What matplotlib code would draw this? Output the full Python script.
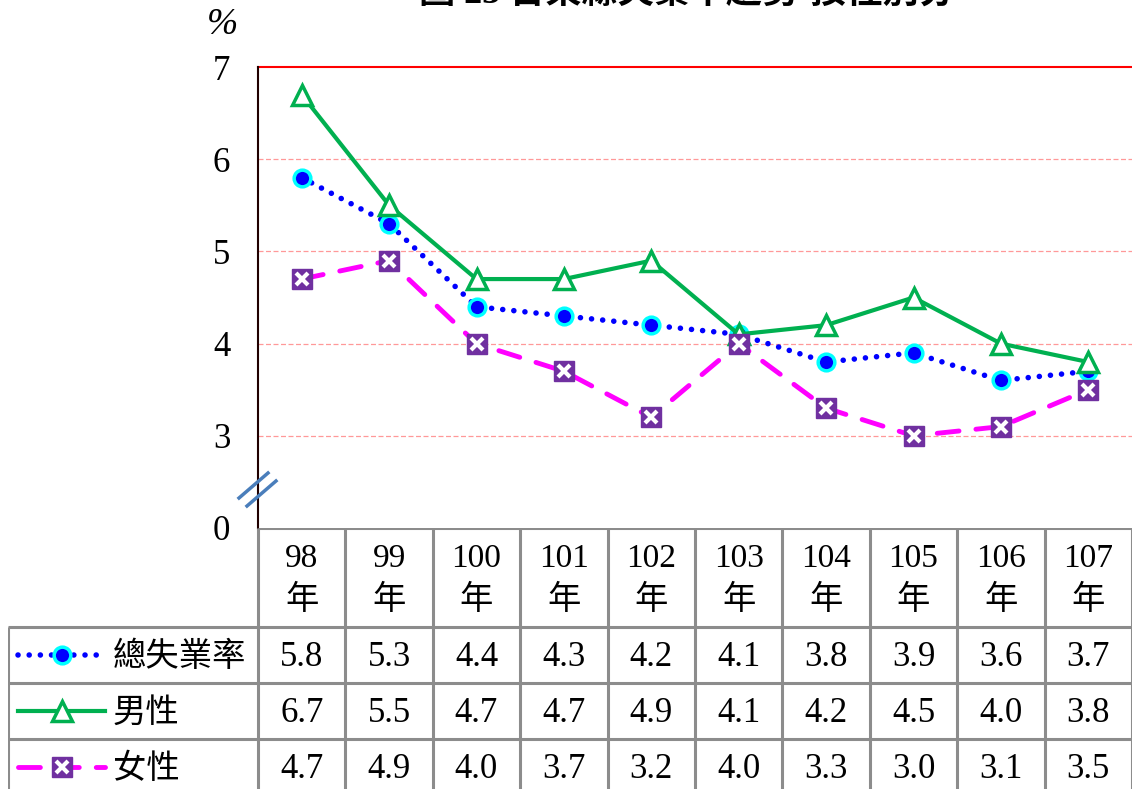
import matplotlib
matplotlib.use("Agg")
import matplotlib.pyplot as plt
from matplotlib.lines import Line2D

W, H = 1132, 789

years = ["98", "99", "100", "101", "102", "103", "104", "105", "106", "107"]
total = [5.8, 5.3, 4.4, 4.3, 4.2, 4.1, 3.8, 3.9, 3.6, 3.7]
male = [6.7, 5.5, 4.7, 4.7, 4.9, 4.1, 4.2, 4.5, 4.0, 3.8]
female = [4.7, 4.9, 4.0, 3.7, 3.2, 4.0, 3.3, 3.0, 3.1, 3.5]
series_names = ["總失業率", "男性", "女性"]
yticks = [2, 3, 4, 5, 6, 7]
ytick_labels = ["0", "3", "4", "5", "6", "7"]
title = "圖 23 台東縣失業率趨勢-按性別分"

FONT = ["Liberation Serif", "Noto Sans CJK TC", "DejaVu Sans"]
plt.rcParams["font.family"] = FONT

styles = [
    dict(color="#0000FF", lw=4, ls=(0, (0.01, 2)), dash_capstyle="round",
         marker="o", ms=12, mfc="#0000FF", mec="#00FFFF", mew=2.5),
    dict(color="#00B050", lw=3, ls="-",
         marker="^", ms=15, mfc="white", mec="#00B050", mew=2.5),
    dict(color="#FF00FF", lw=3.5, ls=(0, (4.5, 3.5)), dash_capstyle="round",
         marker="s", ms=14, mfc="#7030A0", mec="#7030A0", mew=1),
]
xmark = dict(marker="x", ms=8, mec="white", mew=3, ls="none")

fig = plt.figure(figsize=(W / 100, H / 100), dpi=100)

# main plot area
ax = fig.add_axes([258 / W, (H - 528) / H, 874 / W, 461 / H])
x = list(range(len(years)))
for vals, st in zip([total, male, female], styles):
    ax.plot(x, vals, **st, zorder=3)
ax.plot(x, female, **xmark, zorder=4)

ax.set_xlim(-0.5, 9.5)
ax.set_ylim(2, 7)
ax.set_xticks([])
ax.set_yticks(yticks)
ax.set_yticklabels(ytick_labels, fontsize=25)
ax.tick_params(axis="y", length=0, pad=20)
for y in [3, 4, 5, 6]:
    ax.axhline(y, color="#FF9999", lw=0.9, ls=(0, (4, 2)), zorder=1)
ax.axhline(7, color="#FF0000", lw=1.5, zorder=2, clip_on=False)
for s in ["top", "right", "bottom"]:
    ax.spines[s].set_visible(False)
ax.spines["left"].set_color("#200000")
ax.spines["left"].set_linewidth(1.5)

fig.text(222 / W, 1 - 25 / H, "%", fontsize=27, ha="center", va="center",
         fontstyle="italic")
fig.text(687 / W, 1 - 3 / H, title, fontsize=26, fontweight="bold",
         ha="center", va="baseline")

# axis break marks
for x0, y0, x1, y1 in [(239, 498, 268, 473), (247, 506, 276, 481)]:
    fig.add_artist(Line2D([x0 / W, x1 / W], [1 - y0 / H, 1 - y1 / H],
                          transform=fig.transFigure, color="#4A7EBB", lw=2.5))

# data table
col = 87.4
tx = fig.add_axes([8 / W, 0, 1124 / W, 261 / H])
tx.set_xlim(-0.5 - 250 / col, 9.5)
tx.set_ylim(261, 0)
tx.axis("off")
grey = dict(color="#8C8C8C", lw=2.2, solid_capstyle="butt")
rows = [0, 99, 155, 211, 267]
left = -0.5 - 250 / col
tx.plot([-0.5, 9.5], [0, 0], **grey)
for r in rows[1:4]:
    tx.plot([left, 9.5], [r, r], **grey)
tx.plot([left, left], [99, 270], **grey)
for i in range(11):
    tx.plot([i - 0.5, i - 0.5], [0, 270], **grey)

for i, yr in enumerate(years):
    tx.text(i, 52, yr + "\n年", fontsize=24, ha="center", va="center",
            linespacing=1.45)

for k, (name, vals, st) in enumerate(zip(series_names, [total, male, female], styles)):
    yc = (rows[k + 1] + rows[k + 2]) / 2
    xs = [-3.246, -2.74, -2.25]
    line_st = {kk: v for kk, v in st.items() if kk not in ("marker", "ms", "mfc", "mec", "mew")}
    tx.plot([xs[0], xs[2]], [yc, yc], **line_st)
    mk_st = {kk: v for kk, v in st.items() if kk in ("marker", "ms", "mfc", "mec", "mew")}
    tx.plot([xs[1]], [yc], ls="none", **mk_st)
    if k == 2:
        tx.plot([xs[1]], [yc], **xmark)
    tx.text(-2.16, yc + 2, name, fontsize=24, ha="left", va="center")
    for i, v in enumerate(vals):
        tx.text(i, yc + 2, f"{v:.1f}", fontsize=25, ha="center", va="center")

fig.savefig("out.png", dpi=100)
